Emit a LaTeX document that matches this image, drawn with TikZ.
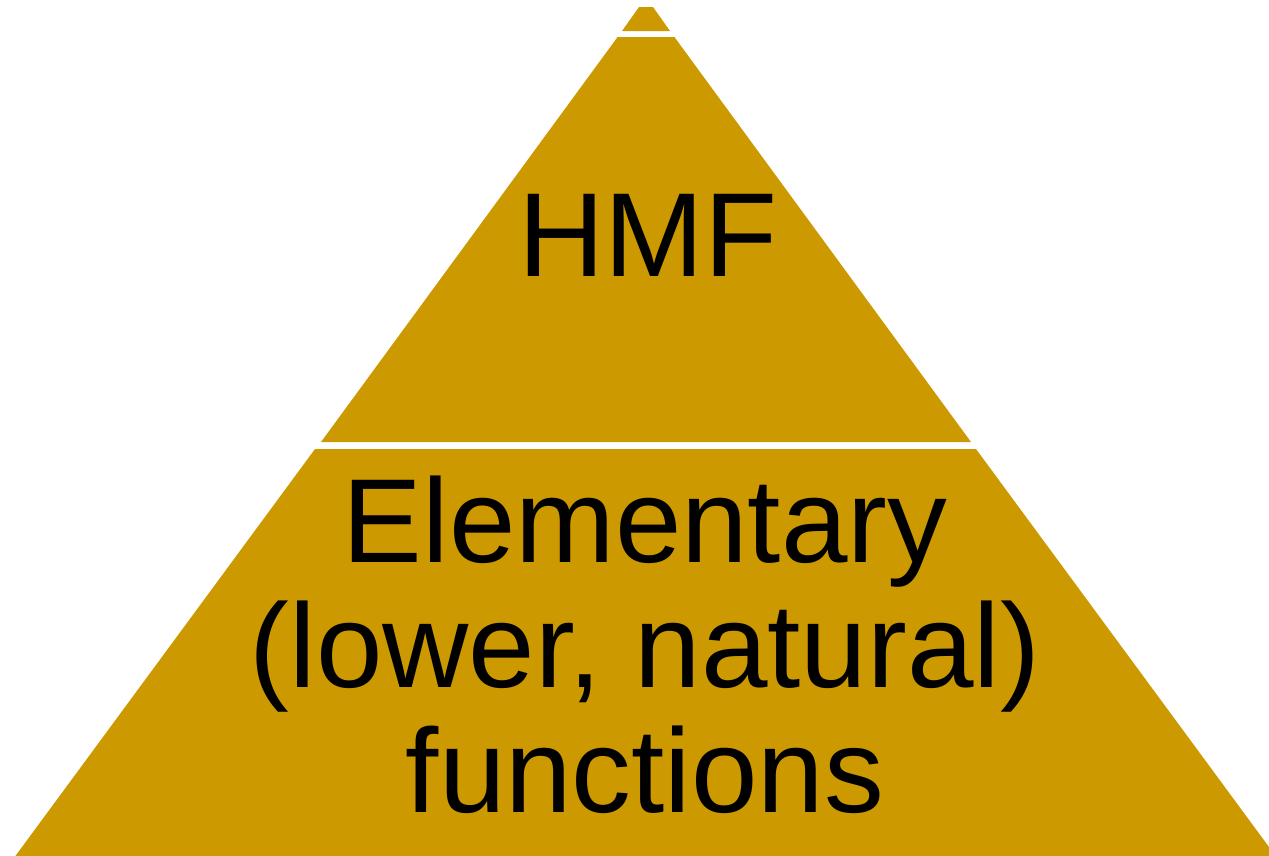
\documentclass[tikz,border=0pt]{standalone}
\usepackage{fontspec}
\setmainfont{Liberation Sans}
\definecolor{pyrgold}{HTML}{CC9900}
\tikzset{layertext/.style={font=\fontsize{68}{71}\selectfont, align=center, inner sep=0pt}}
\begin{document}
\begin{tikzpicture}[x=0.2mm,y=-0.2mm]
  \useasboundingbox (0,0) rectangle (1269,855);
  \clip (0,0) rectangle (1269,855);
  % three layers of the pyramid
  \fill[pyrgold] (639,7) -- (653,7) -- (670,31) -- (622,31) -- cycle;
  \fill[pyrgold] (617.6,37) -- (674.4,37) -- (971,442) -- (321,442) -- cycle;
  \fill[pyrgold] (315,449) -- (976,449) -- (1308,900) -- (-17,900) -- cycle;
  \node[layertext, anchor=base] (top) at (648,276.7) {HMF};
  \node[layertext, anchor=base] (base) at (645,812.3)
    {Elementary\\(lower, natural)\\functions};
\end{tikzpicture}
\end{document}
